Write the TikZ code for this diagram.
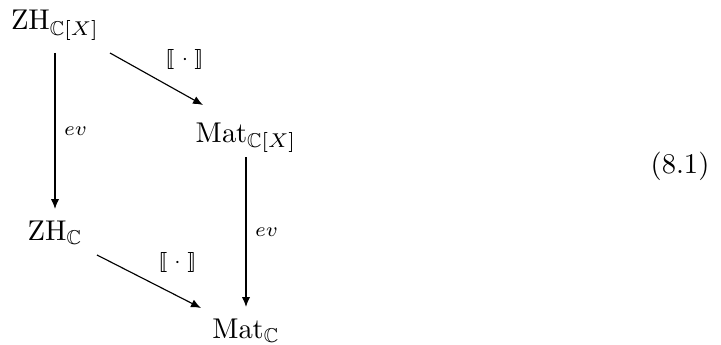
\documentclass[tikz,border=0pt]{standalone}
\usepackage{amssymb}
\usepackage{stmaryrd}
\usetikzlibrary{calc,arrows.meta}
\tikzset{
  obj/.style={inner sep=0pt, anchor=base},
  arr/.style={draw, line width=0.4pt, -{Latex[length=3.5pt,width=2.9pt]}},
  lbl/.style={font=\scriptsize, inner sep=3pt},
}
\begin{document}
\begin{tikzpicture}[x=0.35pt,y=-0.35pt]
\useasboundingbox (0,0) rectangle (721,345);
\node[obj] (zx) at (55,30) {$\mathrm{ZH}_{\mathbb{C}[X]}$};
\node[obj] (mx) at (246,142) {$\mathrm{Mat}_{\mathbb{C}[X]}$};
\node[obj] (zc) at (55,240) {$\mathrm{ZH}_{\mathbb{C}}$};
\node[obj] (mc) at (246,338) {$\mathrm{Mat}_{\mathbb{C}}$};
\node[obj] (eq) at (680,173) {(8.1)};
\draw[arr] ($(zx.base)+(0,23)$) -- node[lbl, right] (l1) {$ev$} ($(zc.base)+(0,-31)$);
\draw[arr] ($(zx.base)+(55,23)$) -- node[lbl, anchor=south west] (l2) {$\llbracket\;\cdot\;\rrbracket$} ($(mx.base)+(-43,-37)$);
\draw[arr] ($(mx.base)+(0,15)$) -- node[lbl, right] (l3) {$ev$} ($(mc.base)+(0,-31)$);
\draw[arr] ($(zc.base)+(42,15)$) -- node[lbl, anchor=south west] (l4) {$\llbracket\;\cdot\;\rrbracket$} ($(mc.base)+(-45,-30)$);
\end{tikzpicture}
\end{document}
